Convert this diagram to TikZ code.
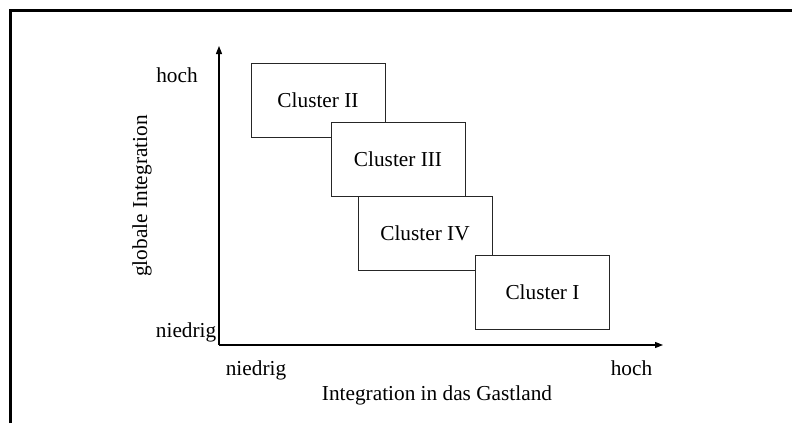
\documentclass[tikz,border=0pt]{standalone}
\usepackage{fontspec}
\setmainfont{Liberation Serif}
\usetikzlibrary{arrows.meta}
\begin{document}
\begin{tikzpicture}[x=1pt,y=-1pt,
  every node/.style={font=\fontsize{21.3}{25}\selectfont, inner sep=0pt},
  clusterbox/.style={draw=black!85, line width=1pt, fill=white, minimum width=134pt, minimum height=74pt},
  axisline/.style={line width=1.2pt, -{Triangle[length=8pt,width=6pt]}},
  framerule/.style={line width=2.7pt}]
\useasboundingbox (0,0) rectangle (792,423);
% frame
\coordinate (fl) at (10.7,423);
\coordinate (fc) at (10.7,10.7);
\coordinate (fr) at (792,10.7);
\draw[framerule] (fl) -- (fc) -- (fr);
% axes
\coordinate (origin) at (219,345);
\coordinate (ytop) at (219,46);
\coordinate (xend) at (663,345);
\draw[axisline] (origin) -- (ytop);
\draw[axisline] (origin) -- (xend);
% clusters
\node[clusterbox] (c2) at (318,100) {Cluster II};
\node[clusterbox] (c3) at (398,159) {Cluster III};
\node[clusterbox] (c4) at (425,233.5) {Cluster IV};
\node[clusterbox] (c1) at (542.5,292) {Cluster I};
% labels
\node[anchor=base] (yhoch) at (177,82) {hoch};
\node[anchor=base east] (yniedrig) at (216.5,337.5) {niedrig};
\node[anchor=base] (xniedrig) at (256,375) {niedrig};
\node[anchor=base] (xhoch) at (631.5,375) {hoch};
\node[anchor=base] (xtitle) at (437,400) {Integration in das Gastland};
\node[anchor=base, rotate=90] (ytitle) at (147,196) {globale Integration};
\end{tikzpicture}
\end{document}
